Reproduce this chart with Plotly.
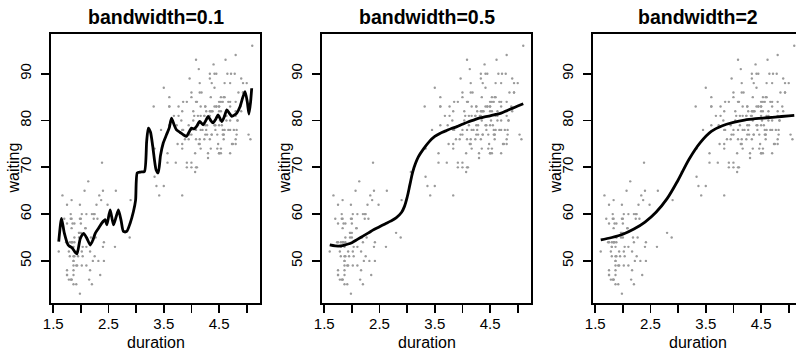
import plotly.graph_objects as go

# Old Faithful eruptions (duration, min) and waiting (min)
eruptions = [3.600,1.800,3.333,2.283,4.533,2.883,4.700,3.600,1.950,4.350,1.833,3.917,4.200,1.750,4.700,2.167,1.750,4.800,1.600,4.250,
             1.800,1.750,3.450,3.067,4.533,3.600,1.967,4.083,3.850,4.433,4.300,4.467,3.367,4.033,3.833,2.017,1.867,4.833,1.833,4.783,
             4.350,1.883,4.567,1.750,4.533,3.317,3.833,2.100,4.633,2.000,4.800,4.716,1.833,4.833,1.733,4.883,3.717,1.667,4.567,4.317,
             2.233,4.500,1.750,4.800,1.817,4.400,4.167,4.700,2.067,4.700,4.033,1.967,4.500,4.000,1.983,5.067,2.017,4.567,3.883,3.600,
             4.133,4.333,4.100,2.633,4.067,4.933,3.950,4.517,2.167,4.000,2.200,4.333,1.867,4.817,1.833,4.300,4.667,3.750,1.867,4.900,
             2.483,4.367,2.100,4.500,4.050,1.867,4.700,1.783,4.850,3.683,4.733,2.300,4.900,4.417,1.700,4.633,2.317,4.600,1.817,4.417,
             2.617,4.067,4.250,1.967,4.600,3.767,1.917,4.500,2.267,4.650,1.867,4.167,2.800,4.333,1.833,4.383,1.883,4.933,2.033,3.733,
             4.233,2.233,4.533,4.817,4.333,1.983,4.633,2.017,5.100,1.800,5.033,4.000,2.400,4.600,3.567,4.000,4.500,4.083,1.800,3.967,
             2.200,4.150,2.000,3.833,3.500,4.583,2.367,5.000,1.933,4.617,1.917,2.083,4.583,3.333,4.167,4.333,4.500,2.417,4.000,4.167,
             1.883,4.583,4.250,3.767,2.033,4.433,4.083,1.833,4.417,2.183,4.800,1.833,4.800,4.100,3.966,4.233,3.500,4.366,2.250,4.667,
             2.100,4.350,4.133,1.867,4.600,1.783,4.367,3.850,1.933,4.500,2.383,4.700,1.867,3.833,3.417,4.233,2.400,4.800,2.000,4.150,
             1.867,4.267,1.750,4.483,4.000,4.117,4.083,4.267,3.917,4.550,4.083,2.417,4.183,2.217,4.450,1.883,1.850,4.283,3.950,2.333,
             4.150,2.350,4.933,2.900,4.583,3.833,2.083,4.367,2.133,4.350,2.200,4.450,3.567,4.500,4.150,3.817,3.917,4.450,2.000,4.283,
             4.767,4.533,1.850,4.250,1.983,2.250,4.750,4.117,2.150,4.417,1.817,4.467]
waiting = [79,54,74,62,85,55,88,85,51,85,54,84,78,47,83,52,62,84,52,79,
           51,47,78,69,74,83,55,76,78,79,73,77,66,80,74,52,48,80,59,90,
           80,58,84,58,73,83,64,53,82,59,75,90,54,80,54,83,71,64,77,81,
           59,84,48,82,60,92,78,78,65,73,82,56,79,71,62,76,60,78,76,83,
           75,82,70,65,73,88,76,80,48,86,60,90,50,78,63,72,84,75,51,82,
           62,88,49,83,81,47,84,52,86,81,75,59,89,79,59,81,50,85,59,87,
           53,69,77,56,88,81,45,82,55,90,45,83,56,89,46,82,51,86,53,79,
           81,60,82,77,76,59,80,49,96,53,77,77,65,81,71,70,81,93,53,89,
           45,86,58,78,66,76,63,88,52,93,49,57,77,68,81,81,73,50,85,74,
           55,77,83,83,51,78,84,46,83,55,81,57,76,84,77,81,87,77,51,78,
           60,82,91,53,78,46,77,84,49,83,71,80,49,75,64,76,53,94,55,76,
           50,82,54,75,78,79,78,78,70,79,70,54,86,50,90,54,54,77,79,64,
           75,47,86,63,85,82,57,82,67,74,54,83,73,73,88,80,71,83,56,79,
           78,84,58,83,43,60,75,81,46,90,46,74]

# Kernel-regression curves
bw01_x = [1.60,1.65,1.70,1.77,1.84,1.90,1.93,1.99,2.05,2.11,2.17,2.22,2.26,2.32,2.38,2.44,2.47,2.53,2.59,2.64,2.68,2.73,2.77,2.83,2.89,2.95,2.99,3.02,3.08,3.15,3.19,3.22,3.26,3.30,3.36,3.40,3.44,3.49,3.55,3.60,3.64,3.69,3.73,3.79,3.85,3.91,3.96,4.00,4.05,4.09,4.15,4.21,4.26,4.30,4.35,4.39,4.44,4.48,4.55,4.60,4.64,4.69,4.73,4.78,4.82,4.88,4.93,4.97,5.01,5.04,5.07,5.09]
bw01_y = [54.1,59.1,56.0,53.4,52.8,51.8,51.5,54.8,55.9,54.8,53.4,54.5,55.9,57.0,58.1,58.8,57.7,60.9,57.7,59.5,60.9,58.5,56.3,56.3,58.0,60.5,63.0,68.8,69.0,69.1,75.5,78.4,77.5,74.5,69.5,68.8,72.5,75.2,77.0,78.5,80.5,79.0,78.0,77.5,77.0,76.6,77.6,78.4,78.2,78.7,79.8,79.1,80.0,80.9,80.0,79.5,80.3,81.2,79.8,81.0,82.3,81.5,80.9,81.2,81.6,83.0,85.0,86.2,84.0,81.4,84.0,86.9]
bw05_x = [1.60,1.70,1.80,1.90,2.00,2.10,2.20,2.30,2.40,2.50,2.60,2.70,2.80,2.90,2.95,3.00,3.05,3.10,3.15,3.20,3.30,3.40,3.50,3.60,3.70,3.80,3.90,4.00,4.10,4.20,4.30,4.40,4.50,4.60,4.70,4.80,4.90,5.00,5.10]
bw05_y = [53.4,53.2,53.2,53.5,53.9,54.6,55.3,56.0,56.7,57.3,57.9,58.5,59.2,60.4,61.6,63.6,66.3,69.0,70.8,72.2,74.0,75.5,76.6,77.3,77.8,78.3,78.7,79.2,79.7,80.1,80.5,80.8,81.0,81.3,81.6,82.1,82.6,83.1,83.6]
bw2_x = [1.60,1.80,2.00,2.20,2.40,2.60,2.80,3.00,3.20,3.40,3.60,3.80,4.00,4.20,4.40,4.60,4.80,5.00,5.10]
bw2_y = [54.5,55.0,55.7,56.8,58.3,60.4,63.3,67.3,71.8,75.3,77.7,78.9,79.6,80.1,80.4,80.6,80.8,81.0,81.1]

titles = ["bandwidth=0.1", "bandwidth=0.5", "bandwidth=2"]
x_tickvals = [1.5, 2.0, 2.5, 3.0, 3.5, 4.0, 4.5, 5.0]
x_ticktext = ["1.5", "", "2.5", "", "3.5", "", "4.5", ""]
y_tickvals = [50, 60, 70, 80, 90]
y_ticktext = ["50", "60", "70", "80", "90"]
x_title = "duration"
y_title = "waiting"

curves = [(bw01_x, bw01_y), (bw05_x, bw05_y), (bw2_x, bw2_y)]

W, H = 796, 351
BOX_W = 209
lefts = [51, 322, 593]
domains = [[lefts[0] / W, (lefts[0] + BOX_W) / W], [lefts[1] / W, (lefts[1] + BOX_W) / W], [lefts[2] / W, 1.0]]
px_per_unit = BOX_W / (5.24 - 1.46)
x_ranges = [[1.46, 5.24], [1.46, 5.24], [1.46, 1.46 + (W - lefts[2]) / px_per_unit]]
y_range = [41.0, 98.5]

font_family = "Liberation Sans, Arial, Helvetica, sans-serif"

fig = go.Figure()
for i, (cx, cy) in enumerate(curves):
    xa = "x" if i == 0 else f"x{i+1}"
    ya = "y" if i == 0 else f"y{i+1}"
    fig.add_trace(go.Scatter(x=eruptions, y=waiting, mode="markers", xaxis=xa, yaxis=ya,
                             marker=dict(size=2.4, color="#9a9a9a", line=dict(width=0)),
                             showlegend=False, hoverinfo="skip"))
    fig.add_trace(go.Scatter(x=cx, y=cy, mode="lines", xaxis=xa, yaxis=ya,
                             line=dict(color="black", width=2.8, shape="spline", smoothing=0.6 if i == 0 else 1.0),
                             showlegend=False, hoverinfo="skip"))

layout = dict(width=W, height=H, margin=dict(l=0, r=0, t=34, b=48, autoexpand=False),
              paper_bgcolor="white", plot_bgcolor="white",
              font=dict(family=font_family, size=15, color="black"),
              annotations=[])
for i in range(3):
    xk = "xaxis" if i == 0 else f"xaxis{i+1}"
    yk = "yaxis" if i == 0 else f"yaxis{i+1}"
    yanchor = "y" if i == 0 else f"y{i+1}"
    xanchor = "x" if i == 0 else f"x{i+1}"
    xref_dom = ("x" if i == 0 else f"x{i+1}") + " domain"
    yref_dom = ("y" if i == 0 else f"y{i+1}") + " domain"
    dom_px = (domains[i][1] - domains[i][0]) * W
    cx_frac = (BOX_W / 2) / dom_px
    layout[xk] = dict(domain=domains[i], range=x_ranges[i], anchor=yanchor, automargin=False,
                      tickmode="array", tickvals=x_tickvals, ticktext=x_ticktext,
                      ticks="outside", ticklen=8, tickwidth=1.8, tickcolor="black",
                      ticklabelstandoff=-2,
                      showline=True, linewidth=1.9, linecolor="black", mirror=True,
                      showgrid=False, zeroline=False,
                      tickfont=dict(size=15, color="black"))
    layout[yk] = dict(domain=[0, 1], range=y_range, anchor=xanchor, automargin=False,
                      tickmode="array", tickvals=y_tickvals, ticktext=y_ticktext,
                      ticks="outside", ticklen=8, tickwidth=1.8, tickcolor="black",
                      ticklabelstandoff=4,
                      showline=True, linewidth=1.9, linecolor="black",
                      mirror=(i < 2), tickangle=-90,
                      showgrid=False, zeroline=False,
                      tickfont=dict(size=15, color="black"))
    # panel title
    layout["annotations"].append(dict(text="<b>" + titles[i] + "</b>", xref=xref_dom, x=cx_frac,
                                      yref="paper", y=1, yshift=17, xanchor="center", yanchor="middle",
                                      showarrow=False, font=dict(size=19.5, color="black")))
    # x axis title
    layout["annotations"].append(dict(text=x_title, xref=xref_dom, x=cx_frac,
                                      yref="paper", y=0, yshift=-39, xanchor="center", yanchor="middle",
                                      showarrow=False, font=dict(size=16, color="black")))
    # y axis title
    layout["annotations"].append(dict(text=y_title, xref=xref_dom, x=0, xshift=-38, xanchor="center",
                                      yref=yref_dom, y=0.5, yanchor="middle", textangle=-90,
                                      showarrow=False, font=dict(size=16, color="black")))

fig.update_layout(**layout)
fig.write_html("out.html", config={"displayModeBar": False, "staticPlot": True},
               post_script="document.body.style.margin='0';document.body.style.padding='0';document.body.style.overflow='hidden';")
